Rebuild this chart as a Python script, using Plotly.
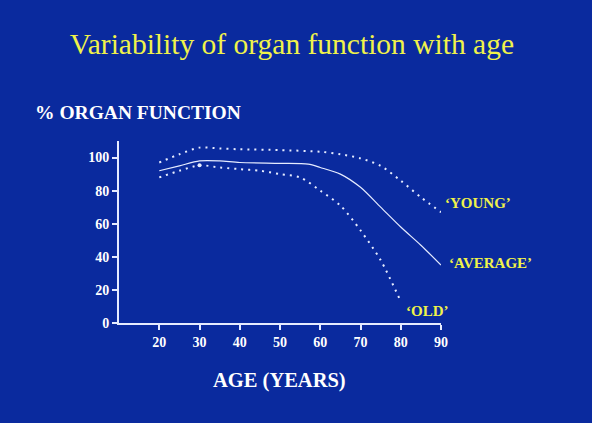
import plotly.graph_objects as go

young_age = [20, 25, 30, 35, 40, 50, 60, 65, 70, 75, 80, 85, 90]
young_val = [97, 102, 106, 105.5, 105, 104.5, 103.5, 102, 99.5, 95, 86, 76, 67]

avg_age = [20, 25, 30, 35, 40, 50, 57, 60, 65, 70, 75, 80, 85, 90]
avg_val = [92, 95, 98, 98, 97, 96.5, 96, 94, 90, 82, 70, 58, 47, 35]

old_age = [20, 25, 30, 35, 40, 45, 50, 55, 60, 65, 70, 75, 80]
old_val = [88, 92, 95.3, 94, 93, 92, 90, 88, 80, 71, 56, 38, 13]

marker_age = [30]
marker_val = [95.3]

x_ticks = [20, 30, 40, 50, 60, 70, 80, 90]
y_ticks = [0, 20, 40, 60, 80, 100]

labels = ["\u2018YOUNG\u2019", "\u2018AVERAGE\u2019", "\u2018OLD\u2019"]
label_x = [90.6, 91.5, 80.9]
label_y = [72.6, 36.5, 7]

X_MIN, X_MAX = 10, 90
Y_MIN, Y_MAX = 0, 110

BG = "#0A2A9E"
LINE = "#E6ECFF"
YELLOW = "#F0F24A"
FONT = "Liberation Serif"

fig = go.Figure()
fig.add_trace(go.Scatter(x=young_age, y=young_val, mode="lines",
                         line=dict(color=LINE, width=2, dash="2px,5px", shape="spline", smoothing=0.8),
                         hoverinfo="skip"))
fig.add_trace(go.Scatter(x=avg_age, y=avg_val, mode="lines",
                         line=dict(color=LINE, width=1.2, shape="spline", smoothing=0.8),
                         hoverinfo="skip"))
fig.add_trace(go.Scatter(x=old_age, y=old_val, mode="lines",
                         line=dict(color=LINE, width=2, dash="2px,5px", shape="spline", smoothing=0.8),
                         hoverinfo="skip"))
fig.add_trace(go.Scatter(x=marker_age, y=marker_val, mode="markers",
                         marker=dict(color=LINE, size=4), hoverinfo="skip"))

for t, x, y in zip(labels, label_x, label_y):
    fig.add_annotation(x=(x - X_MIN) / (X_MAX - X_MIN), y=(y - Y_MIN) / (Y_MAX - Y_MIN),
                       xref="paper", yref="paper", text=t, showarrow=False,
                       xanchor="left", yanchor="middle",
                       font=dict(family=FONT, size=15, color=YELLOW, weight="bold"))

fig.add_annotation(x=-0.268, y=1.157, xref="paper", yref="paper", text="% ORGAN FUNCTION",
                   showarrow=False, xanchor="left", yanchor="middle",
                   font=dict(family=FONT, size=19.5, color="white", weight="bold"))
fig.add_annotation(x=0.498, y=-0.316, xref="paper", yref="paper", text="AGE (YEARS)",
                   showarrow=False, xanchor="center", yanchor="middle",
                   font=dict(family=FONT, size=20.5, color="white", weight="bold"))

fig.update_layout(
    width=592, height=423,
    margin=dict(l=119, r=151, t=141, b=100),
    paper_bgcolor=BG, plot_bgcolor=BG,
    showlegend=False,
    title=dict(text="Variability of organ function with age", x=0.493, xanchor="center",
               y=1 - 44 / 423, yanchor="middle",
               font=dict(family=FONT, size=29.5, color=YELLOW)),
    xaxis=dict(range=[X_MIN, X_MAX], tickvals=x_ticks, showgrid=False, zeroline=False,
               showline=True, linecolor=LINE, linewidth=2, ticks="outside", ticklen=5,
               tickcolor=LINE, tickwidth=2,
               tickfont=dict(family=FONT, size=14, color="white", weight="bold")),
    yaxis=dict(range=[Y_MIN, Y_MAX], tickvals=y_ticks, showgrid=False, zeroline=False,
               showline=True, linecolor=LINE, linewidth=2, ticks="outside", ticklen=5,
               tickcolor=LINE, tickwidth=2,
               tickfont=dict(family=FONT, size=14, color="white", weight="bold")),
)

fig.write_html("out.html", config={"displayModeBar": False},
               post_script="document.body.style.margin='0';document.body.style.background='" + BG + "';")
